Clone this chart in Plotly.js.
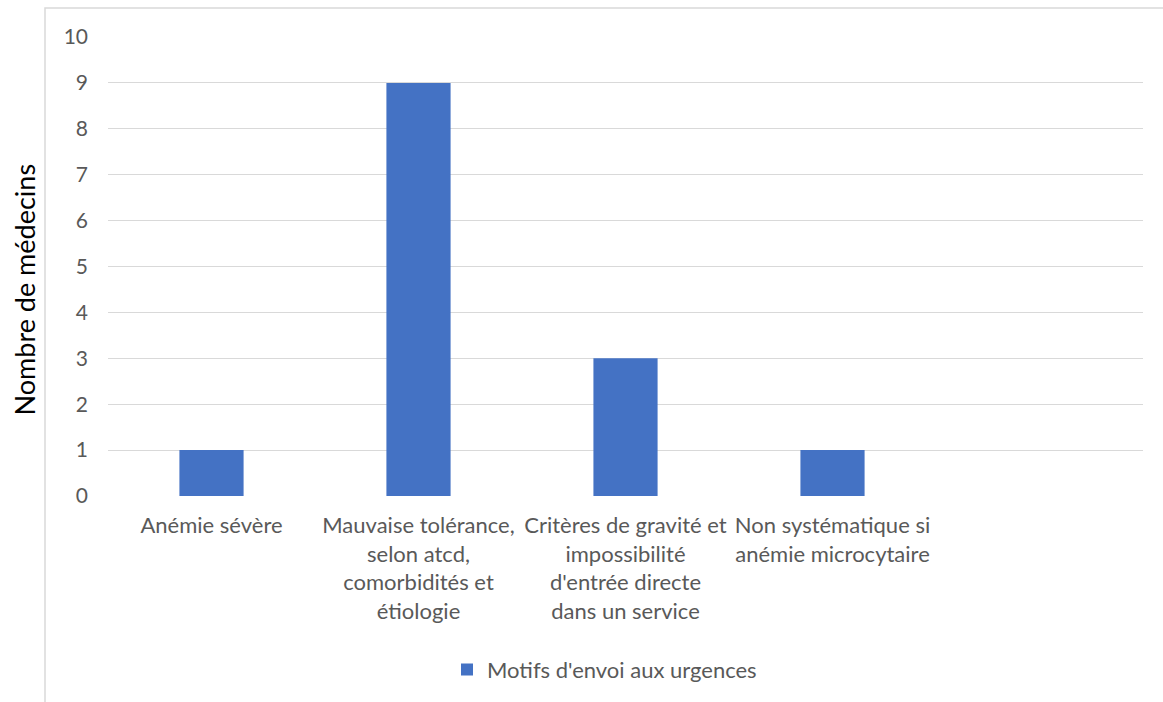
<!DOCTYPE html>
<html>
<head>
<meta charset="utf-8">
<script src="https://cdn.plot.ly/plotly-3.0.1.min.js"></script>
<style>html,body{margin:0;padding:0;background:#fff;}#chart{width:1163px;height:702px;}</style>
</head>
<body>
<div id="chart"></div>
<script>
const categories = [
  "Anémie sévère",
  "Mauvaise tolérance,<br>selon atcd,<br>comorbidités et<br>étiologie",
  "Critères de gravité et<br>impossibilité<br>d'entrée directe<br>dans un service",
  "Non systématique si<br>anémie microcytaire",
  " "
];
const values = [1, 9, 3, 1, null];
const seriesName = "Motifs d'envoi aux urgences";
const yTitle = "Nombre de médecins";
const yTicks = [0,1,2,3,4,5,6,7,8,9,10];

const font = "Lato, 'Open Sans', sans-serif";
const L = 108, R = 1143, T = 37, B = 497;
const pw = R - L, ph = B - T;

const trace = {
  type: "bar",
  x: categories,
  y: values,
  name: seriesName,
  marker: {color: "#4472C4"},
  width: 0.31,
  hoverinfo: "x+y"
};

const layout = {
  width: 1163, height: 702,
  margin: {l: L, r: 1163 - R, t: T, b: 702 - B},
  paper_bgcolor: "#fff", plot_bgcolor: "#fff",
  font: {family: font, color: "#595959", size: 22},
  bargap: 0.69,
  xaxis: {
    type: "category",
    range: [-0.5, 4.5],
    showgrid: false, zeroline: false, showline: false,
    ticks: "", tickangle: 0,
    tickfont: {family: font, size: 22, color: "#595959"},
    ticklabelstandoff: 14,
    automargin: false
  },
  yaxis: {
    range: [0, 10],
    tickvals: yTicks,
    showgrid: true, gridcolor: "#d9d9d9", gridwidth: 1.3,
    zeroline: false, showline: false, ticks: "",
    tickfont: {family: font, size: 21, color: "#595959"},
    ticklabelstandoff: 19,
    automargin: false
  },
  showlegend: true,
  legend: {
    orientation: "h", x: (447 - L) / pw, xanchor: "left", y: -0.33, yanchor: "top",
    font: {family: font, size: 22, color: "#595959"}
  },
  annotations: [{
    text: yTitle, xref: "paper", yref: "paper",
    x: (24 - L) / pw, y: (B - 290) / ph, xanchor: "center", yanchor: "middle",
    textangle: -90, showarrow: false,
    font: {family: font, size: 27, color: "#000"}
  }],
  shapes: [{
    type: "rect", xref: "paper", yref: "paper",
    x0: (45 - L) / pw, x1: 1.2, y0: -0.6, y1: (B - 8) / ph,
    line: {color: "#d9d9d9", width: 1.5}, fillcolor: "rgba(0,0,0,0)", layer: "below"
  }]
};

Plotly.newPlot("chart", [trace], layout, {displayModeBar: false, staticPlot: false});
</script>
</body>
</html>
